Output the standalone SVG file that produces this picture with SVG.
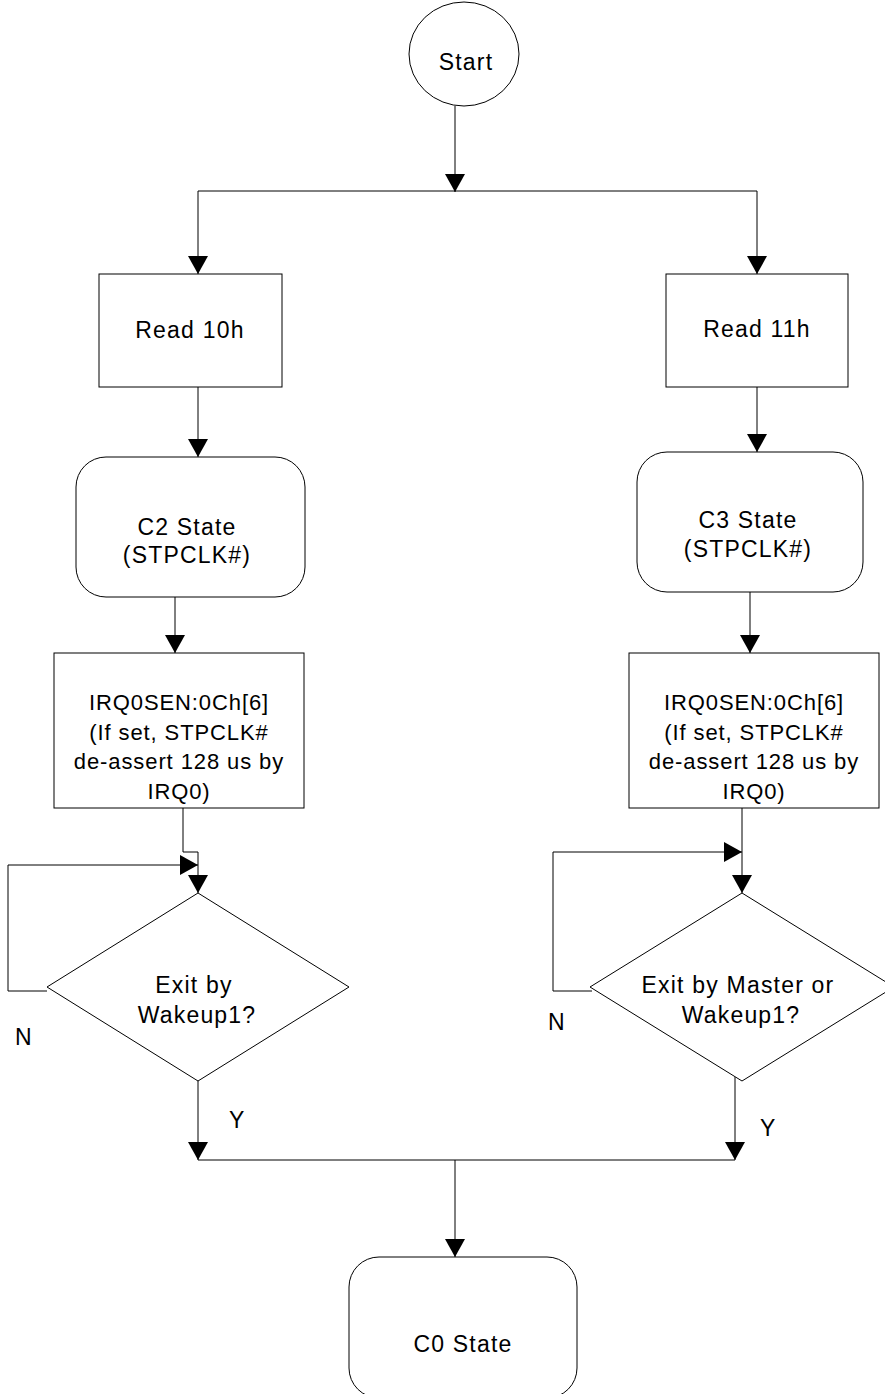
<svg xmlns="http://www.w3.org/2000/svg" width="885" height="1394" viewBox="0 0 885 1394">
<style>
.shape{fill:#fff;stroke:#000;stroke-width:1}
.conn{fill:none;stroke:#000;stroke-width:1}
text{font-family:"Liberation Sans",Arial,sans-serif;font-size:23px;letter-spacing:1.2px;fill:#000;text-anchor:middle}
.sm{font-size:22px;letter-spacing:0.9px}
.lbl{text-anchor:start;letter-spacing:0}
</style>
<defs>
<marker id="arr" markerUnits="userSpaceOnUse" markerWidth="18" markerHeight="20" refX="18" refY="10" orient="auto">
<path d="M0,0 L18,10 L0,20 Z" fill="#000"/>
</marker>
</defs>
<rect width="885" height="1394" fill="#fff"/>
<g id="connectors">
<line class="conn" x1="455" y1="106" x2="455" y2="192" marker-end="url(#arr)"/>
<line class="conn" x1="198" y1="191" x2="757" y2="191"/>
<line class="conn" x1="198" y1="191" x2="198" y2="274" marker-end="url(#arr)"/>
<line class="conn" x1="757" y1="191" x2="757" y2="274" marker-end="url(#arr)"/>
<line class="conn" x1="198" y1="387" x2="198" y2="457" marker-end="url(#arr)"/>
<line class="conn" x1="757" y1="387" x2="757" y2="452" marker-end="url(#arr)"/>
<line class="conn" x1="175" y1="597" x2="175" y2="653" marker-end="url(#arr)"/>
<line class="conn" x1="750" y1="592" x2="750" y2="653" marker-end="url(#arr)"/>
<polyline class="conn" points="183,808 183,852 198,852 198,893" marker-end="url(#arr)"/>
<polyline class="conn" points="47,991 8,991 8,865 198,865" marker-end="url(#arr)"/>
<line class="conn" x1="742" y1="808" x2="742" y2="893" marker-end="url(#arr)"/>
<polyline class="conn" points="592,991 553,991 553,852 742,852" marker-end="url(#arr)"/>
<line class="conn" x1="198" y1="1081" x2="198" y2="1160" marker-end="url(#arr)"/>
<line class="conn" x1="735" y1="1077" x2="735" y2="1160" marker-end="url(#arr)"/>
<line class="conn" x1="198" y1="1160" x2="735" y2="1160"/>
<line class="conn" x1="455" y1="1160" x2="455" y2="1257" marker-end="url(#arr)"/>
</g>
<g id="start">
<ellipse class="shape" cx="464" cy="54" rx="55" ry="52"/>
<text x="466" y="70">Start</text>
</g>
<g id="read10h">
<rect class="shape" x="99" y="274" width="183" height="113"/>
<text x="190" y="338">Read 10h</text>
</g>
<g id="read11h">
<rect class="shape" x="666" y="274" width="182" height="113"/>
<text x="757" y="337">Read 11h</text>
</g>
<g id="c2state">
<rect class="shape" x="76" y="457" width="229" height="140" rx="30" ry="30"/>
<text x="187" y="535">C2 State</text>
<text x="187" y="563">(STPCLK#)</text>
</g>
<g id="c3state">
<rect class="shape" x="637" y="452" width="226" height="140" rx="30" ry="30"/>
<text x="748" y="528">C3 State</text>
<text x="748" y="557">(STPCLK#)</text>
</g>
<g id="irq-left">
<rect class="shape" x="54" y="653" width="250" height="155"/>
<text class="sm" x="179" y="710">IRQ0SEN:0Ch[6]</text>
<text class="sm" x="179" y="740">(If set, STPCLK#</text>
<text class="sm" x="179" y="769">de-assert 128 us by</text>
<text class="sm" x="179" y="799">IRQ0)</text>
</g>
<g id="irq-right">
<rect class="shape" x="629" y="653" width="250" height="155"/>
<text class="sm" x="754" y="710">IRQ0SEN:0Ch[6]</text>
<text class="sm" x="754" y="740">(If set, STPCLK#</text>
<text class="sm" x="754" y="769">de-assert 128 us by</text>
<text class="sm" x="754" y="799">IRQ0)</text>
</g>
<g id="decision-left">
<polygon class="shape" points="198,893 349,987 198,1081 47,987"/>
<text x="194" y="993">Exit by</text>
<text x="197" y="1023">Wakeup1?</text>
</g>
<g id="decision-right">
<polygon class="shape" points="742,893 894,987 742,1081 590,987"/>
<text x="738" y="993">Exit by Master or</text>
<text x="741" y="1023">Wakeup1?</text>
</g>
<g id="labels">
<text class="lbl" x="15" y="1045">N</text>
<text class="lbl" x="548" y="1030">N</text>
<text class="lbl" x="229" y="1128">Y</text>
<text class="lbl" x="760" y="1136">Y</text>
</g>
<g id="c0state">
<rect class="shape" x="349" y="1257" width="228" height="141" rx="30" ry="30"/>
<text x="463" y="1352">C0 State</text>
</g>
</svg>
